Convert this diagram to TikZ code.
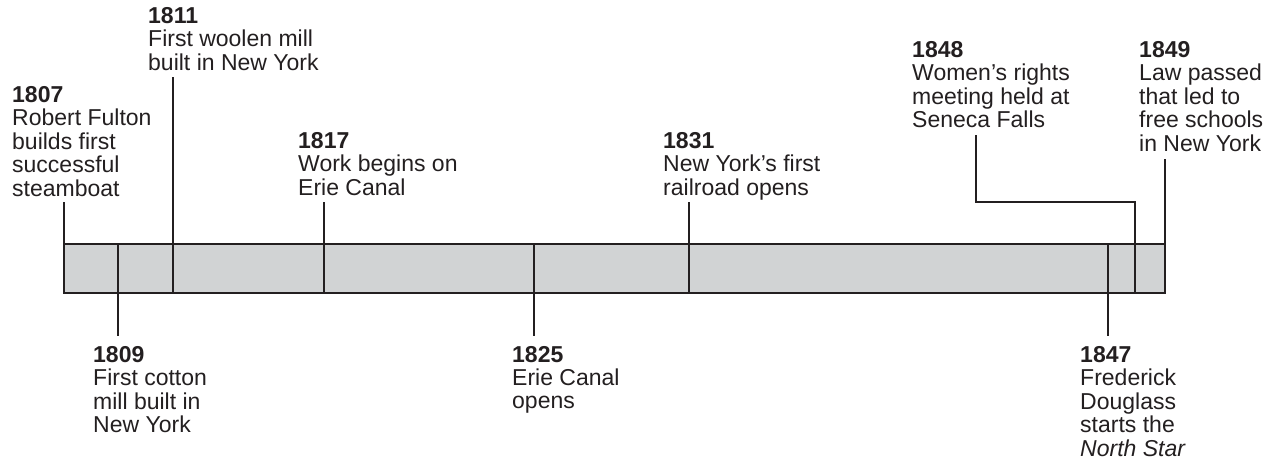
\documentclass[tikz,border=0pt]{standalone}
\usepackage{fontspec}
\setmainfont{Liberation Sans}
\definecolor{ink}{HTML}{231F20}
\definecolor{barfill}{HTML}{D1D3D4}
\newcommand{\evtxt}[2]{\begin{tabular}[t]{@{}l@{}}\textbf{#1}\\#2\end{tabular}}
\begin{document}
\begin{tikzpicture}[x=1pt,y=-1pt,
  evlabel/.style={anchor=base west,inner sep=0pt,text=ink,font=\fontsize{23}{23}\selectfont},
  tick/.style={draw=ink,line width=2pt},
  bar/.style={draw=ink,line width=2pt,fill=barfill}]
\useasboundingbox (0,0) rectangle (1273,461);
\renewcommand{\arraystretch}{1}
% bar
\draw[bar] (64,244) rectangle (1165,293);
\coordinate (b1807) at (64,244);
% labels
\node[evlabel] (t1807) at (12,102) {\evtxt{1807}{Robert Fulton\\builds first\\successful\\steamboat}};
\node[evlabel] (t1811) at (148,23) {\evtxt{1811}{First woolen mill\\built in New York}};
\node[evlabel] (t1817) at (298,148) {\evtxt{1817}{Work begins on\\Erie Canal}};
\node[evlabel] (t1831) at (663,148) {\evtxt{1831}{New York’s first\\railroad opens}};
\node[evlabel] (t1848) at (912,57) {\evtxt{1848}{Women’s rights\\meeting held at\\Seneca Falls}};
\node[evlabel] (t1849) at (1139,57) {\evtxt{1849}{Law passed\\that led to\\free schools\\in New York}};
\node[evlabel] (t1809) at (93,362) {\evtxt{1809}{First cotton\\mill built in\\New York}};
\node[evlabel] (t1825) at (512,362) {\evtxt{1825}{Erie Canal\\opens}};
\node[evlabel] (t1847) at (1080,362) {\evtxt{1847}{Frederick\\Douglass\\starts the\\\textit{North Star}}};
% tick coordinates
\coordinate (u1807) at (64,202);   \coordinate (d1807) at (64,293);
\coordinate (u1811) at (173,77);   \coordinate (d1811) at (173,293);
\coordinate (u1817) at (324,202);  \coordinate (d1817) at (324,293);
\coordinate (u1831) at (689,202);  \coordinate (d1831) at (689,293);
\coordinate (u1849) at (1165,159); \coordinate (d1849) at (1165,293);
\coordinate (u1809) at (118,244);  \coordinate (d1809) at (118,336);
\coordinate (u1825) at (534,244);  \coordinate (d1825) at (534,336);
\coordinate (u1847) at (1108,244); \coordinate (d1847) at (1108,336);
\coordinate (s1848) at (976,135);  \coordinate (k1848) at (976,202);
\coordinate (j1848) at (1135,202); \coordinate (d1848) at (1135,293);
% ticks
\draw[tick] (u1807) -- (d1807);
\draw[tick] (u1811) -- (d1811);
\draw[tick] (u1817) -- (d1817);
\draw[tick] (u1831) -- (d1831);
\draw[tick] (u1849) -- (d1849);
\draw[tick] (u1809) -- (d1809);
\draw[tick] (u1825) -- (d1825);
\draw[tick] (u1847) -- (d1847);
\draw[tick,line join=miter] (s1848) -- (k1848) -- (j1848) -- (d1848);
\end{tikzpicture}
\end{document}
